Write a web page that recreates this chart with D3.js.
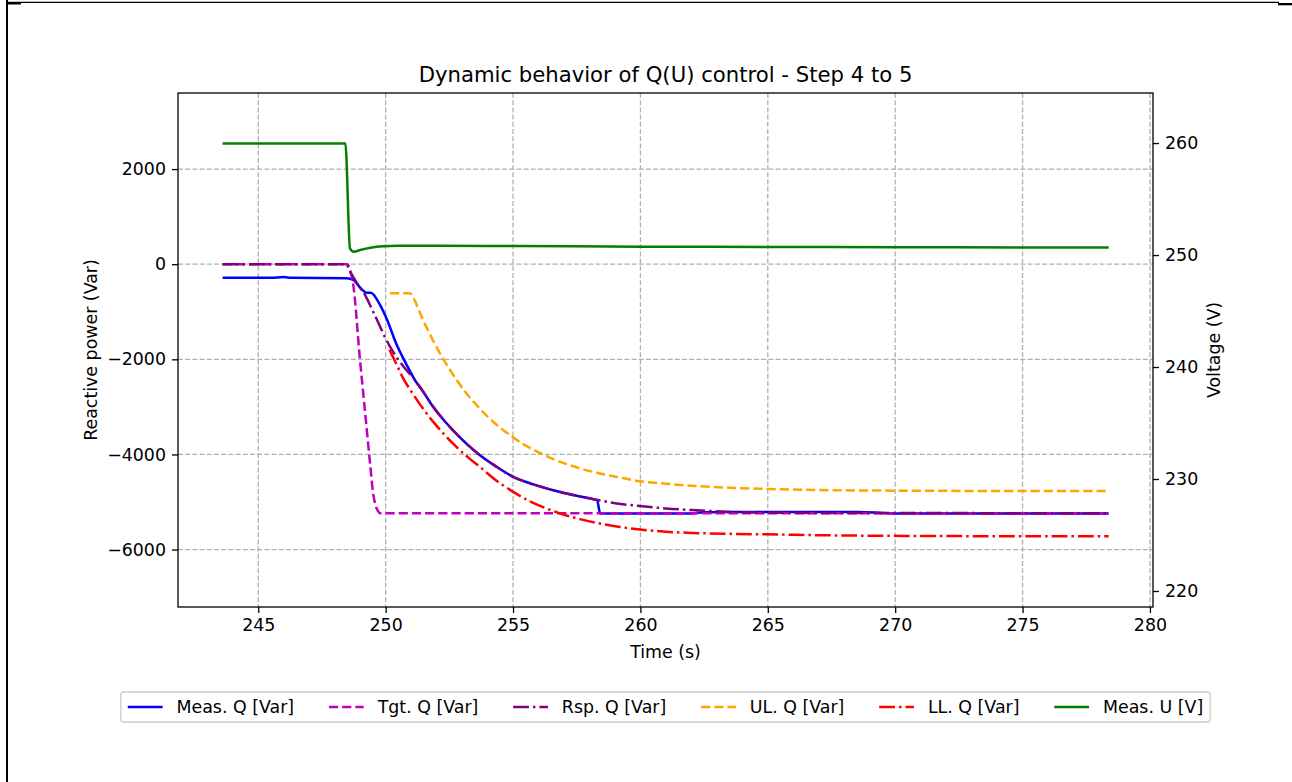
<!DOCTYPE html>
<html>
<head>
<meta charset="utf-8">
<script src="https://cdn.jsdelivr.net/npm/d3@7"></script>
<style>
  html, body { margin: 0; padding: 0; background: #fff; }
  svg { display: block; font-family: "DejaVu Sans", sans-serif; }
</style>
</head>
<body>
<svg id="chart" width="1292" height="782"></svg>
<script>
// ---- Data: Q(U) control, step 4 -> 5 ----
const measQTime = [243.6, 245.5, 246.0, 246.3, 248.47, 248.73, 249.06, 249.25, 249.42, 249.78, 250.06, 250.43, 250.82, 251.15, 251.5, 251.8, 252.1, 252.4, 252.8, 253.2, 253.7, 254.3, 255.01, 255.8, 256.58, 257.4, 258.21, 258.3, 258.42, 262.0, 262.5, 266.0, 268.5, 269.5, 270.0, 278.38];
const measQ     = [-285, -285, -270, -285, -294, -331, -526, -598, -598, -857, -1173, -1690, -2110, -2436, -2700, -2950, -3160, -3350, -3580, -3790, -4015, -4240, -4472, -4630, -4752, -4860, -4947, -4960, -5240, -5240, -5215, -5210, -5212, -5230, -5240, -5240];

const tgtQTime = [243.6, 248.5, 248.62, 248.72, 249.0, 249.2, 249.4, 249.5, 249.6, 249.7, 249.8, 278.38];
const tgtQ     = [0, 0, -150, -400, -2050, -3150, -4250, -4780, -5060, -5190, -5235, -5235];

const rspQTime = [243.6, 248.45, 248.6, 248.9, 249.19, 249.45, 249.7, 249.97, 250.3, 250.7, 251.15, 251.5, 251.8, 252.1, 252.4, 252.8, 253.2, 253.7, 254.3, 255.01, 255.8, 256.58, 257.4, 258.21, 259.0, 259.98, 261.0, 262.06, 263.38, 265.5, 268.0, 278.38];
const rspQ     = [0, 0, -150, -420, -646, -930, -1215, -1530, -1850, -2150, -2436, -2700, -2950, -3160, -3350, -3580, -3790, -4015, -4240, -4472, -4630, -4752, -4860, -4947, -5025, -5085, -5135, -5170, -5205, -5225, -5232, -5235];

const ulQTime = [250.17, 250.95, 251.1, 251.34, 251.6, 251.87, 252.26, 252.79, 253.2, 253.57, 254.0, 254.49, 255.01, 255.5, 256.0, 256.58, 257.2, 257.63, 258.41, 259.2, 260.0, 261.0, 262.0, 263.5, 265.0, 267.0, 270.0, 273.0, 278.38];
const ulQ     = [-611, -611, -720, -1015, -1323, -1614, -1993, -2436, -2735, -2963, -3205, -3433, -3643, -3815, -3955, -4098, -4222, -4294, -4400, -4485, -4565, -4615, -4658, -4700, -4727, -4748, -4762, -4767, -4770];

const llQTime = [250.15, 250.45, 250.69, 251.0, 251.3, 251.87, 252.3, 252.65, 253.2, 253.7, 254.3, 255.01, 255.6, 256.32, 257.0, 257.63, 258.41, 259.2, 259.98, 261.0, 262.0, 263.5, 264.95, 267.0, 269.92, 275.0, 278.38];
const llQ     = [-1800, -2130, -2400, -2670, -2910, -3316, -3579, -3775, -4047, -4261, -4531, -4787, -4968, -5137, -5268, -5360, -5453, -5525, -5579, -5625, -5650, -5670, -5680, -5698, -5712, -5720, -5722];

const measUTime = [243.6, 246.0, 248.42, 248.6, 248.75, 249.0, 249.4, 249.9, 250.5, 252.0, 255.0, 260.0, 265.0, 270.0, 275.0, 278.38];
const measU     = [259.95, 259.95, 259.95, 250.6, 250.3, 250.45, 250.65, 250.78, 250.82, 250.83, 250.8, 250.75, 250.72, 250.7, 250.68, 250.68];

const timeTicks    = [245, 250, 255, 260, 265, 270, 275, 280];
const qTicks       = [-6000, -4000, -2000, 0, 2000];
const voltageTicks = [220, 230, 240, 250, 260];

const seriesNames = ["Meas. Q [Var]", "Tgt. Q [Var]", "Rsp. Q [Var]", "UL. Q [Var]", "LL. Q [Var]", "Meas. U [V]"];

// ---- Layout ----
const W = 1292, H = 782;
const P = { left: 178, right: 1153, top: 93, bottom: 607 };
const FONT = 17.4;

const svg = d3.select("#chart");

// page frame lines
svg.append("line").attr("x1", 7).attr("x2", 7).attr("y1", 0).attr("y2", H)
   .attr("stroke", "#000").attr("stroke-width", 2);
svg.append("line").attr("x1", 6).attr("x2", 1279).attr("y1", 2.4).attr("y2", 2.4)
   .attr("stroke", "#000").attr("stroke-width", 1.4);
svg.append("rect").attr("x", 8).attr("y", 2.5).attr("width", 13).attr("height", 2).attr("fill", "#000");
svg.append("rect").attr("x", 1278).attr("y", 3).attr("width", 14).attr("height", 2.3).attr("fill", "#000");

const x  = d3.scaleLinear().domain([241.85, 280.12]).range([P.left, P.right]);
const yQ = d3.scaleLinear().domain([-7208, 3600]).range([P.bottom, P.top]);
const yU = d3.scaleLinear().domain([218.57, 264.47]).range([P.bottom, P.top]);

// grid
const grid = svg.append("g").attr("stroke", "#b0b0b0").attr("stroke-width", 1.3)
  .attr("stroke-dasharray", "5,2.2");
grid.selectAll("line.v").data(timeTicks).join("line").attr("class", "v")
  .attr("x1", d => x(d)).attr("x2", d => x(d)).attr("y1", P.top).attr("y2", P.bottom);
grid.selectAll("line.h").data(qTicks).join("line").attr("class", "h")
  .attr("x1", P.left).attr("x2", P.right).attr("y1", d => yQ(d)).attr("y2", d => yQ(d));

// series
const DASH = "9.2,4";
const DASHDOT = "15.8,4,2.5,4";
const styles = [
  { color: "#0000ff", dash: null },
  { color: "#bf00bf", dash: DASH },
  { color: "#800080", dash: DASHDOT },
  { color: "#ffa500", dash: DASH },
  { color: "#ff0000", dash: DASHDOT },
  { color: "#008000", dash: null }
];

const zip = (ts, vs) => ts.map((t, i) => [t, vs[i]]);
const lineQ = d3.line().x(d => x(d[0])).y(d => yQ(d[1])).curve(d3.curveMonotoneX);
const lineU = d3.line().x(d => x(d[0])).y(d => yU(d[1])).curve(d3.curveMonotoneX);

const qSeries = [
  zip(measQTime, measQ),
  zip(tgtQTime, tgtQ),
  zip(rspQTime, rspQ),
  zip(ulQTime, ulQ),
  zip(llQTime, llQ)
];

const plotG = svg.append("g");
qSeries.forEach((data, i) => {
  plotG.append("path").datum(data)
    .attr("d", lineQ)
    .attr("fill", "none")
    .attr("stroke", styles[i].color)
    .attr("stroke-width", 2.5)
    .attr("stroke-dasharray", styles[i].dash)
    .attr("stroke-linejoin", "round");
});
plotG.append("path").datum(zip(measUTime, measU))
  .attr("d", lineU)
  .attr("fill", "none")
  .attr("stroke", styles[5].color)
  .attr("stroke-width", 2.5)
  .attr("stroke-linejoin", "round");

// axes
const fmt = d3.format("d");
function styleAxis(g) {
  g.selectAll(".domain").remove();
  g.selectAll(".tick line").attr("stroke", "#000").attr("stroke-width", 1.3);
  g.selectAll(".tick text").attr("fill", "#000").style("font-size", FONT + "px")
    .style("font-family", "DejaVu Sans");
}
svg.append("g").attr("transform", `translate(0,${P.bottom})`)
  .call(d3.axisBottom(x).tickValues(timeTicks).tickFormat(fmt).tickSize(6).tickPadding(6))
  .call(styleAxis);
svg.append("g").attr("transform", `translate(${P.left},0)`)
  .call(d3.axisLeft(yQ).tickValues(qTicks).tickFormat(fmt).tickSize(6).tickPadding(6))
  .call(styleAxis);
svg.append("g").attr("transform", `translate(${P.right},0)`)
  .call(d3.axisRight(yU).tickValues(voltageTicks).tickFormat(fmt).tickSize(6).tickPadding(6))
  .call(styleAxis);

// frame
svg.append("rect").attr("x", P.left).attr("y", P.top)
  .attr("width", P.right - P.left).attr("height", P.bottom - P.top)
  .attr("fill", "none").attr("stroke", "#000").attr("stroke-width", 1.3);

// titles
svg.append("text").attr("x", (P.left + P.right) / 2).attr("y", 82)
  .attr("text-anchor", "middle").style("font-size", "21.2px")
  .text("Dynamic behavior of Q(U) control - Step 4 to 5");
svg.append("text").attr("x", (P.left + P.right) / 2).attr("y", 658)
  .attr("text-anchor", "middle").style("font-size", FONT + "px").text("Time (s)");
svg.append("text").attr("transform", `translate(97,${(P.top + P.bottom) / 2}) rotate(-90)`)
  .attr("text-anchor", "middle").style("font-size", FONT + "px").text("Reactive power (Var)");
svg.append("text").attr("transform", `translate(1220,${(P.top + P.bottom) / 2}) rotate(-90)`)
  .attr("text-anchor", "middle").style("font-size", FONT + "px").text("Voltage (V)");

// legend (single row, centred under the axes)
const legend = svg.append("g");
const box = legend.append("rect").attr("fill", "#fff").attr("fill-opacity", 0.8)
  .attr("stroke", "#cccccc").attr("stroke-width", 1.3).attr("rx", 3);
const HANDLE = 2 * FONT, HPAD = 0.8 * FONT, COLSP = 2 * FONT, PAD = 0.4 * FONT, LEG_Y = 707;
const items = seriesNames.map((name, i) => {
  const g = legend.append("g");
  g.append("line").attr("x1", 0).attr("x2", HANDLE).attr("y1", 0).attr("y2", 0)
    .attr("stroke", styles[i].color).attr("stroke-width", 2.5)
    .attr("stroke-dasharray", styles[i].dash);
  const t = g.append("text").attr("x", HANDLE + HPAD).attr("y", 6.2)
    .style("font-size", FONT + "px").text(name);
  return { g, w: HANDLE + HPAD + t.node().getComputedTextLength() };
});
const total = d3.sum(items, d => d.w) + COLSP * (items.length - 1) + PAD * 2;
let cx = (P.left + P.right) / 2 - total / 2;
box.attr("x", cx).attr("y", LEG_Y - 15).attr("width", total).attr("height", 30);
cx += PAD;
items.forEach(it => {
  it.g.attr("transform", `translate(${cx},${LEG_Y})`);
  cx += it.w + COLSP;
});
</script>
</body>
</html>
